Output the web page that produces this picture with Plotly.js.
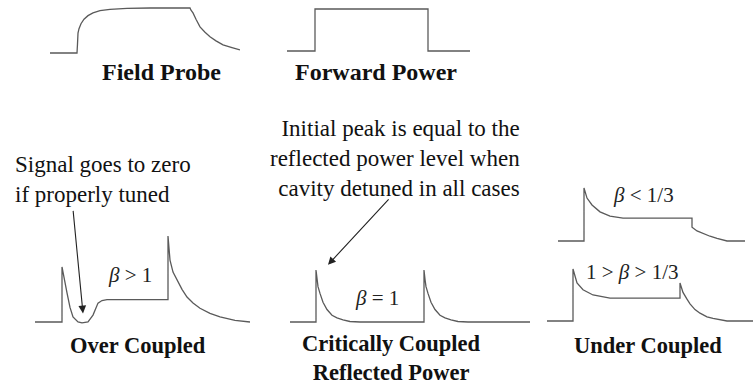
<!DOCTYPE html>
<html>
<head>
<meta charset="utf-8">
<script src="https://cdn.plot.ly/plotly-3.0.1.min.js"></script>
<style>html,body{margin:0;padding:0;background:#fff;}#chart{width:753px;height:385px;}</style>
</head>
<body>
<div id="chart"></div>
<script>
// ---- Data (time in arbitrary units, amplitude normalised) ----
const fieldProbeT = [0,27,27.5,28,29,31,34,38,43,50,60,77,100,140,141,143,146,150,155,160,166,173,182,190];
const fieldProbeV = [0,0,0.2,0.44,0.54,0.65,0.75,0.83,0.89,0.94,0.97,0.99,1,1,0.95,0.89,0.75,0.58,0.46,0.36,0.27,0.18,0.12,0.07];

const forwardT = [0,28,28,141,141,183];
const forwardV = [0,0,1,1,0,0];

const overT = [0,27,27,28,30,32,35,38,43,47,53,58,63,67,72,133,133,134,135,138,142,147,152,158,165,175,185,200,215];
const overV = [0,0,0.64,0.57,0.45,0.34,0.17,0.06,0.0,-0.01,0.0,0.08,0.22,0.25,0.26,0.26,1.0,0.85,0.72,0.58,0.49,0.38,0.29,0.22,0.16,0.1,0.06,0.02,0];

const critT = [0,26,26,27,28,30,33,37,42,47,53,60,70,134,134,135,136,138,141,145,150,155,161,168,178,240];
const critV = [0,0,1,0.82,0.68,0.55,0.38,0.24,0.13,0.08,0.04,0.01,0,0,1,0.82,0.68,0.55,0.38,0.24,0.13,0.08,0.04,0.01,0,0];

const underLowT = [0,26,26,29,34,42,52,65,134,134,139,145,152,159,169,187];
const underLowV = [0,0,1,0.81,0.68,0.55,0.47,0.43,0.43,0.26,0.19,0.14,0.09,0.05,0,0];

const underMidT = [0,26,26,30,36,46,63,133,133,136,140,143,148,153,160,166,180,206];
const underMidV = [0,0,1,0.73,0.6,0.5,0.44,0.44,0.73,0.55,0.42,0.33,0.22,0.15,0.08,0.05,0,0];

const panelTitles = ["Field Probe","Forward Power","Over Coupled","Critically Coupled<br>Reflected Power","Under Coupled"];
const betaLabels = ["<i>β</i> &gt; 1","<i>β</i> = 1","<i>β</i> &lt; 1/3","1 &gt; <i>β</i> &gt; 1/3"];
const noteOver = "Signal goes to zero<br>if properly tuned";
const noteCrit = "Initial peak is equal to the<br>reflected power level when<br>cavity detuned in all cases";

// ---- Layout helpers (pixel positions of each panel) ----
const W = 753, H = 385;
const px = v => v / W;
const py = v => 1 - v / H;

const series = [
  {t: fieldProbeT, v: fieldProbeV, box: [50, 240, 53, 8]},
  {t: forwardT, v: forwardV, box: [287, 470, 51, 9]},
  {t: overT, v: overV, box: [35, 250, 322, 236]},
  {t: critT, v: critV, box: [290, 530, 322, 270]},
  {t: underLowT, v: underLowV, box: [558, 745, 241, 188]},
  {t: underMidT, v: underMidV, box: [547, 753, 321, 269]}
];

const PAD = 0.15;
const traces = [];
const layout = {
  width: W, height: H,
  margin: {l: 0, r: 0, t: 0, b: 0},
  paper_bgcolor: '#fff', plot_bgcolor: 'rgba(0,0,0,0)',
  showlegend: false,
  font: {family: 'Liberation Serif'},
  annotations: []
};

series.forEach((s, i) => {
  const n = i + 1;
  const xa = n === 1 ? 'x' : 'x' + n;
  const ya = n === 1 ? 'y' : 'y' + n;
  traces.push({
    x: s.t, y: s.v, xaxis: xa, yaxis: ya,
    type: 'scatter', mode: 'lines',
    line: {color: '#5a5a5a', width: 1.3},
    hoverinfo: 'skip'
  });
  const [x0, x1, base, peak] = s.box;
  const unit = base - peak;
  const tEnd = s.t[s.t.length - 1];
  layout[n === 1 ? 'xaxis' : 'xaxis' + n] = {
    domain: [px(x0), px(x1)], range: [0, tEnd], visible: false,
    anchor: ya, fixedrange: true
  };
  layout[n === 1 ? 'yaxis' : 'yaxis' + n] = {
    domain: [py(base + PAD * unit), py(peak - PAD * unit)], range: [-PAD, 1 + PAD],
    visible: false, anchor: xa, fixedrange: true
  };
});

const serif = 'Liberation Serif';
function label(text, x, y, opts) {
  layout.annotations.push(Object.assign({
    text: text, xref: 'paper', yref: 'paper', x: px(x), y: py(y),
    xanchor: 'center', yanchor: 'middle', showarrow: false,
    font: {family: serif, size: 22.5, color: '#111'}
  }, opts || {}));
}

// Titles
label('<b>' + panelTitles[0] + '</b>', 161, 72, {font: {family: serif, size: 24, color: '#111'}});
label('<b>' + panelTitles[1] + '</b>', 376, 72, {font: {family: serif, size: 24, color: '#111'}});
label('<b>' + panelTitles[2] + '</b>', 138, 345);
label('<b>' + panelTitles[3].replace('<br>', '</b><br><b>') + '</b>', 391, 358);
label('<b>' + panelTitles[4] + '</b>', 648, 345);

// Beta labels
const betaFont = {family: serif, size: 21, color: '#222'};
label(betaLabels[0], 130, 275, {font: betaFont});
label(betaLabels[1], 377, 298, {font: betaFont});
label(betaLabels[2], 643, 195, {font: betaFont});
label(betaLabels[3], 632, 272, {font: betaFont});

// Notes
const noteFont = {family: serif, size: 23, color: '#111'};
label(noteOver, 13, 179, {xanchor: 'left', align: 'left', font: noteFont});
label(noteCrit, 522, 158, {xanchor: 'right', align: 'right', font: noteFont});

// Arrows
layout.annotations.push({
  xref: 'x3', yref: 'y3', x: 48, y: 0.1, ax: -10, ay: -104,
  axref: 'pixel', ayref: 'pixel', text: '', showarrow: true,
  arrowhead: 2, arrowsize: 1.4, arrowwidth: 1.1, arrowcolor: '#222', standoff: 0
});
layout.annotations.push({
  xref: 'x4', yref: 'y4', x: 38, y: 1.1, ax: 62, ay: -67,
  axref: 'pixel', ayref: 'pixel', text: '', showarrow: true,
  arrowhead: 2, arrowsize: 1.4, arrowwidth: 1.1, arrowcolor: '#222', standoff: 0
});

Plotly.newPlot('chart', traces, layout, {staticPlot: true, displayModeBar: false});
</script>
</body>
</html>
